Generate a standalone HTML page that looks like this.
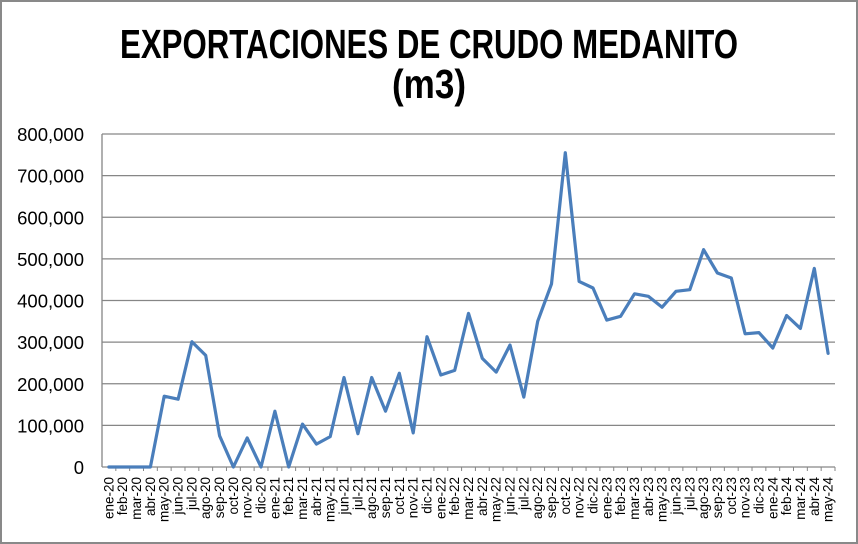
<!DOCTYPE html>
<html><head><meta charset="utf-8"><style>
html,body{margin:0;padding:0;background:#fff;}
svg{display:block;}
</style></head><body>
<svg id="c" width="858" height="544" xmlns="http://www.w3.org/2000/svg">
<rect x="1" y="1" width="856" height="542" fill="#fff" stroke="#898989" stroke-width="2"/>
<text x="429" y="58" text-anchor="middle" font-family="Liberation Sans, sans-serif" font-weight="bold" font-size="41" textLength="618" lengthAdjust="spacingAndGlyphs">EXPORTACIONES DE CRUDO MEDANITO</text>
<text x="429" y="98" text-anchor="middle" font-family="Liberation Sans, sans-serif" font-weight="bold" font-size="41" textLength="74" lengthAdjust="spacingAndGlyphs">(m3)</text>
<g id="g"></g>
</svg>
<script>
var g=document.getElementById('g'),ns='http://www.w3.org/2000/svg';
function el(t,a,txt){var e=document.createElementNS(ns,t);for(var k in a)e.setAttribute(k,a[k]);if(txt!==undefined)e.textContent=txt;g.appendChild(e);return e;}
var L=102,R=835,Y0=467,Y8=134,ph=(Y0-Y8)/8;
var ylab=['0','100,000','200,000','300,000','400,000','500,000','600,000','700,000','800,000'];
for(var i=0;i<=8;i++){var y=Y0-i*ph;
 el('line',{x1:L,x2:R,y1:y,y2:y,stroke:'#868686','stroke-width':1.3});
 el('text',{x:84,y:y+7,'text-anchor':'end','font-family':'Liberation Sans, sans-serif','font-size':'18.5',fill:'#000'},ylab[i]);}
el('line',{x1:L,x2:L,y1:Y8,y2:Y0,stroke:'#868686','stroke-width':1.3});
var v=[0,0,0,0,170,163,301,268,75,0,70,0,134,0,103,55,73,215,80,215,134,225,82,313,221,232,369,261,228,293,168,350,440,755,446,430,353,362,416,410,384,422,426,522,466,454,320,323,286,364,333,477,273];
var m=['ene','feb','mar','abr','may','jun','jul','ago','sep','oct','nov','dic'];
var n=v.length,w=(R-L)/n,pts=[];
for(var i=0;i<n;i++){var x=L+w*(i+0.5);pts.push(x.toFixed(1)+','+(Y0-v[i]*ph/100).toFixed(1));
 var lab=m[i%12]+'-'+(20+Math.floor(i/12));
 el('line',{x1:L+w*(i+1),x2:L+w*(i+1),y1:Y0,y2:Y0+4,stroke:'#868686','stroke-width':1});
 el('text',{x:0,y:0,transform:'translate('+(x+4.5)+',477) rotate(-90)','text-anchor':'end','font-family':'Liberation Sans, sans-serif','font-size':'13.5',fill:'#000'},lab);}
el('polyline',{points:pts.join(' '),fill:'none',stroke:'#4A7EBB','stroke-width':3.2,'stroke-linejoin':'round','stroke-linecap':'round'});
</script>
</body></html>
